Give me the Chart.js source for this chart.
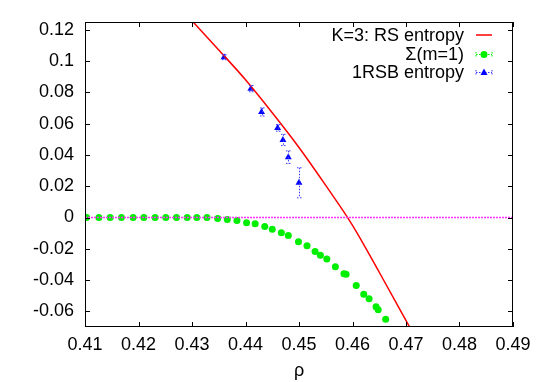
<!DOCTYPE html>
<html>
<head>
<meta charset="utf-8">
<script src="https://cdn.jsdelivr.net/npm/chart.js@4.4.0/dist/chart.umd.min.js"></script>
<style>
html, body { margin: 0; padding: 0; background: #fff; }
#wrap { width: 545px; height: 382px; }
</style>
</head>
<body>
<div id="wrap"><canvas id="entropyChart"></canvas></div>
<script>
// K=3 : entropie RS (courbe rouge)
const rsRho = [0.430, 0.435, 0.440, 0.445, 0.450, 0.455, 0.460, 0.465, 0.471];
const rsEntropy = [0.1258, 0.1071, 0.0881, 0.0670, 0.0448, 0.0205, -0.0050, -0.0350, -0.0720];

// Sigma(m=1) (points verts)
const sigmaRho = [0.4103, 0.4126, 0.4147, 0.4168, 0.4190, 0.4210, 0.4231, 0.4251, 0.4271,
    0.4291, 0.4309, 0.4328, 0.4348, 0.4366, 0.4384, 0.4402, 0.4418, 0.4436, 0.4450,
    0.4467, 0.4480, 0.4499, 0.4515, 0.4530, 0.4540, 0.4552, 0.4568, 0.4584, 0.4588,
    0.4607, 0.4621, 0.4631, 0.4644, 0.4648, 0.4662];
const sigmaVal = [0, 0, 0, 0, 0, 0, 0, 0, 0,
    0, 0, 0, -0.0006, -0.0013, -0.0019, -0.0034, -0.0040, -0.0057, -0.0075,
    -0.0098, -0.0115, -0.0155, -0.0181, -0.0217, -0.0241, -0.0266, -0.0315, -0.0360, -0.0362,
    -0.0434, -0.0490, -0.0520, -0.0571, -0.0590, -0.0650];

// 1RSB entropie avec barres d'erreur
const rsbRho = [0.436, 0.441, 0.443, 0.446, 0.447, 0.448, 0.450];
const rsbEntropy = [0.1025, 0.0824, 0.0675, 0.0573, 0.0496, 0.0386, 0.0222];
const rsbErr = [0.0016, 0.0020, 0.0026, 0.0021, 0.0036, 0.0040, 0.0096];

// ligne y = 0
const zeroRho = [0.41, 0.49];
const zeroVal = [0, 0];

const xTickVals = [0.41, 0.42, 0.43, 0.44, 0.45, 0.46, 0.47, 0.48, 0.49];
const yTickVals = [-0.06, -0.04, -0.02, 0, 0.02, 0.04, 0.06, 0.08, 0.1, 0.12];
const legendLabels = ['K=3: RS entropy', 'Σ(m=1)', '1RSB entropy'];

const FONT = "'Liberation Sans', Arial, sans-serif";
const pts = (xs, ys) => xs.map((x, i) => ({ x: x, y: ys[i] }));
const fmt = v => String(Number(v.toFixed(4)));

// cadre + graduations vers l'intérieur, barres d'erreur, légende
const gnuplotLook = {
    id: 'gnuplotLook',
    afterDatasetsDraw(chart) {
        const { ctx, chartArea: a, scales: { x, y } } = chart;
        ctx.save();

        // barres d'erreur 1RSB
        ctx.strokeStyle = '#3a3aff';
        ctx.lineWidth = 1;
        ctx.setLineDash([1.5, 1.5]);
        rsbRho.forEach((r, i) => {
            const px = Math.round(x.getPixelForValue(r)) + 0.5;
            const top = y.getPixelForValue(rsbEntropy[i] + rsbErr[i]);
            const bot = y.getPixelForValue(rsbEntropy[i] - rsbErr[i]);
            ctx.beginPath();
            ctx.moveTo(px, top); ctx.lineTo(px, bot);
            ctx.moveTo(px - 2.5, top); ctx.lineTo(px + 2.5, top);
            ctx.moveTo(px - 2.5, bot); ctx.lineTo(px + 2.5, bot);
            ctx.stroke();
        });
        ctx.setLineDash([]);

        // cadre
        ctx.strokeStyle = '#000';
        ctx.lineWidth = 1;
        ctx.strokeRect(a.left + 0.5, a.top + 0.5, a.right - a.left - 1, a.bottom - a.top - 1);

        ctx.beginPath();
        xTickVals.forEach(v => {
            const px = Math.round(x.getPixelForValue(v)) + 0.5;
            ctx.moveTo(px, a.bottom); ctx.lineTo(px, a.bottom - 5);
            ctx.moveTo(px, a.top); ctx.lineTo(px, a.top + 5);
        });
        yTickVals.forEach(v => {
            const py = Math.round(y.getPixelForValue(v)) + 0.5;
            ctx.moveTo(a.left, py); ctx.lineTo(a.left + 5, py);
            ctx.moveTo(a.right, py); ctx.lineTo(a.right - 5, py);
        });
        ctx.stroke();

        // légende
        const tx = 464, sx0 = 476, sx1 = 492, sc = 484;
        const rows = [35, 54, 72];
        ctx.font = '18px ' + FONT;
        ctx.fillStyle = '#000';
        ctx.textAlign = 'right';
        ctx.textBaseline = 'middle';
        legendLabels.forEach((t, i) => ctx.fillText(t, tx, rows[i] + 1));

        ctx.strokeStyle = '#ff0000';
        ctx.lineWidth = 1.5;
        ctx.beginPath(); ctx.moveTo(sx0, rows[0]); ctx.lineTo(sx1, rows[0]); ctx.stroke();

        [['#00ee00', 1], ['#3a3aff', 2]].forEach(([c, i]) => {
            const yy = rows[i] + 0.5;
            ctx.strokeStyle = c;
            ctx.lineWidth = 1;
            ctx.setLineDash([1.5, 1.5]);
            ctx.beginPath();
            ctx.moveTo(sx0, yy); ctx.lineTo(sx1, yy);
            ctx.moveTo(sx0, yy - 2.5); ctx.lineTo(sx0, yy + 2.5);
            ctx.moveTo(sx1, yy - 2.5); ctx.lineTo(sx1, yy + 2.5);
            ctx.stroke();
            ctx.setLineDash([]);
        });
        ctx.fillStyle = '#00ee00';
        ctx.beginPath(); ctx.arc(sc, rows[1] + 0.5, 3.5, 0, Math.PI * 2); ctx.fill();
        ctx.fillStyle = '#0000ff';
        ctx.beginPath();
        ctx.moveTo(sc, rows[2] - 3.5); ctx.lineTo(sc + 3.5, rows[2] + 3); ctx.lineTo(sc - 3.5, rows[2] + 3);
        ctx.closePath(); ctx.fill();

        ctx.restore();
    }
};

new Chart(document.getElementById('entropyChart'), {
    type: 'scatter',
    data: {
        datasets: [
            {
                label: 'zero',
                data: pts(zeroRho, zeroVal),
                showLine: true,
                borderColor: '#ff33ff',
                borderWidth: 1.5,
                borderDash: [2, 1],
                pointRadius: 0
            },
            {
                label: legendLabels[1],
                data: pts(sigmaRho, sigmaVal),
                backgroundColor: '#00ee00',
                borderWidth: 0,
                pointRadius: 3.5
            },
            {
                label: legendLabels[0],
                data: pts(rsRho, rsEntropy),
                showLine: true,
                cubicInterpolationMode: 'monotone',
                borderColor: '#ff0000',
                borderWidth: 1.5,
                pointRadius: 0
            },
            {
                label: legendLabels[2],
                data: pts(rsbRho, rsbEntropy),
                pointStyle: 'triangle',
                backgroundColor: '#0000ff',
                borderColor: '#0000ff',
                borderWidth: 0,
                pointRadius: 4
            }
        ]
    },
    options: {
        responsive: true,
        maintainAspectRatio: false,
        animation: false,
        layout: { padding: { top: 22, right: 32, left: 0, bottom: 0 } },
        plugins: {
            legend: { display: false },
            tooltip: { enabled: false }
        },
        scales: {
            x: {
                type: 'linear',
                min: 0.41,
                max: 0.49,
                afterBuildTicks: s => { s.ticks = xTickVals.map(v => ({ value: v })); },
                afterFit: s => { s.height = 55; },
                grid: { display: false, drawTicks: false },
                border: { display: false },
                ticks: {
                    padding: 7,
                    color: '#000',
                    font: { family: FONT, size: 18 },
                    maxRotation: 0,
                    autoSkip: false,
                    callback: v => fmt(v)
                },
                title: {
                    display: true,
                    text: 'ρ',
                    color: '#000',
                    font: { family: FONT, size: 18 },
                    padding: { top: 0, bottom: 0 }
                }
            },
            y: {
                type: 'linear',
                min: -0.07,
                max: 0.125,
                afterBuildTicks: s => { s.ticks = yTickVals.map(v => ({ value: v })); },
                afterFit: s => { s.width = 85; },
                grid: { display: false, drawTicks: false },
                border: { display: false },
                ticks: {
                    padding: 11,
                    color: '#000',
                    font: { family: FONT, size: 18 },
                    autoSkip: false,
                    callback: v => fmt(v)
                }
            }
        }
    },
    plugins: [gnuplotLook]
});
</script>
</body>
</html>
